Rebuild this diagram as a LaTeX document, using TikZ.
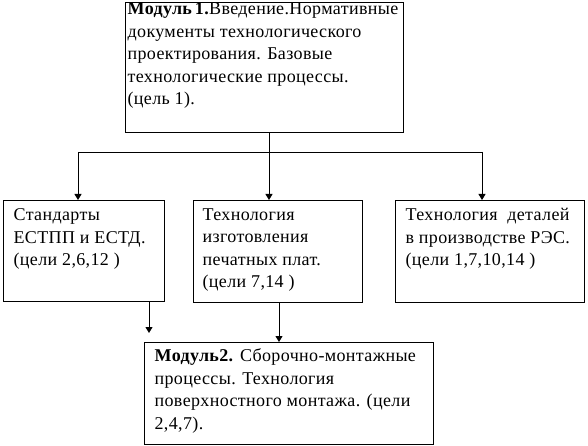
\documentclass[tikz,border=0pt]{standalone}
\usepackage{fontspec}
\setmainfont{Liberation Serif}[LetterSpace=2]
\usetikzlibrary{arrows.meta}

\newcommand{\boxbody}[4]{\parbox[c][#2][t]{#1}{\raggedright\vspace*{#3}#4}}

\begin{document}
\begin{tikzpicture}[x=1pt, y=-1pt, line cap=butt,
  modbox/.style={draw, line width=1.3pt, anchor=north west, inner ysep=0pt, align=left,
    font=\fontsize{18}{22.5}\selectfont},
  arr/.style={-{Triangle[width=7pt,length=6pt]}, line width=0.9pt}]
\useasboundingbox (0,0) rectangle (588,446);
% модули и темы
\node[modbox, inner xsep=2pt] (mod1) at (125,2)
  {\boxbody{274pt}{130pt}{0pt}{\textbf{Модуль\,1.}Введение.Нормативные\\документы технологического\\проектирования. Базовые\\технологические процессы.\\(цель 1).}};
\node[modbox, inner xsep=10pt] (std) at (3,200)
  {\boxbody{141pt}{101pt}{8pt}{Стандарты\\ЕСТПП и ЕСТД.\\(цели 2,6,12 )}};
\node[modbox, inner xsep=9pt] (pcb) at (193,200)
  {\boxbody{151pt}{102pt}{8pt}{Технология\\изготовления\\печатных плат.\\(цели 7,14 )}};
\node[modbox, inner xsep=10pt] (parts) at (395,200)
  {\boxbody{169pt}{102pt}{8pt}{Технология~ деталей\\в производстве РЭС.\\(цели 1,7,10,14 )}};
\node[modbox, inner xsep=10pt] (mod2) at (144,342)
  {\boxbody{269pt}{102pt}{6pt}{\textbf{Модуль2.} Сборочно-монтажные\\процессы. Технология\\поверхностного монтажа. (цели\\2,4,7).}};
% связи
\coordinate (split) at (269,152);
\coordinate (lb) at (78,152);
\coordinate (rb) at (482,152);
\coordinate (stdout) at (149,333);
\coordinate (pcbout) at (279,342);
\draw[line width=0.9pt] (mod1.south -| split) -- (split);
\draw[line width=0.9pt] (lb) -- (rb);
\draw[arr] (lb) -- (lb |- std.north);
\draw[arr] (split) -- (split |- pcb.north);
\draw[arr] (rb) -- (rb |- parts.north);
\draw[arr] (std.south -| stdout) -- (stdout);
\draw[arr] (pcb.south -| pcbout) -- (pcbout |- mod2.north);
\end{tikzpicture}
\end{document}
